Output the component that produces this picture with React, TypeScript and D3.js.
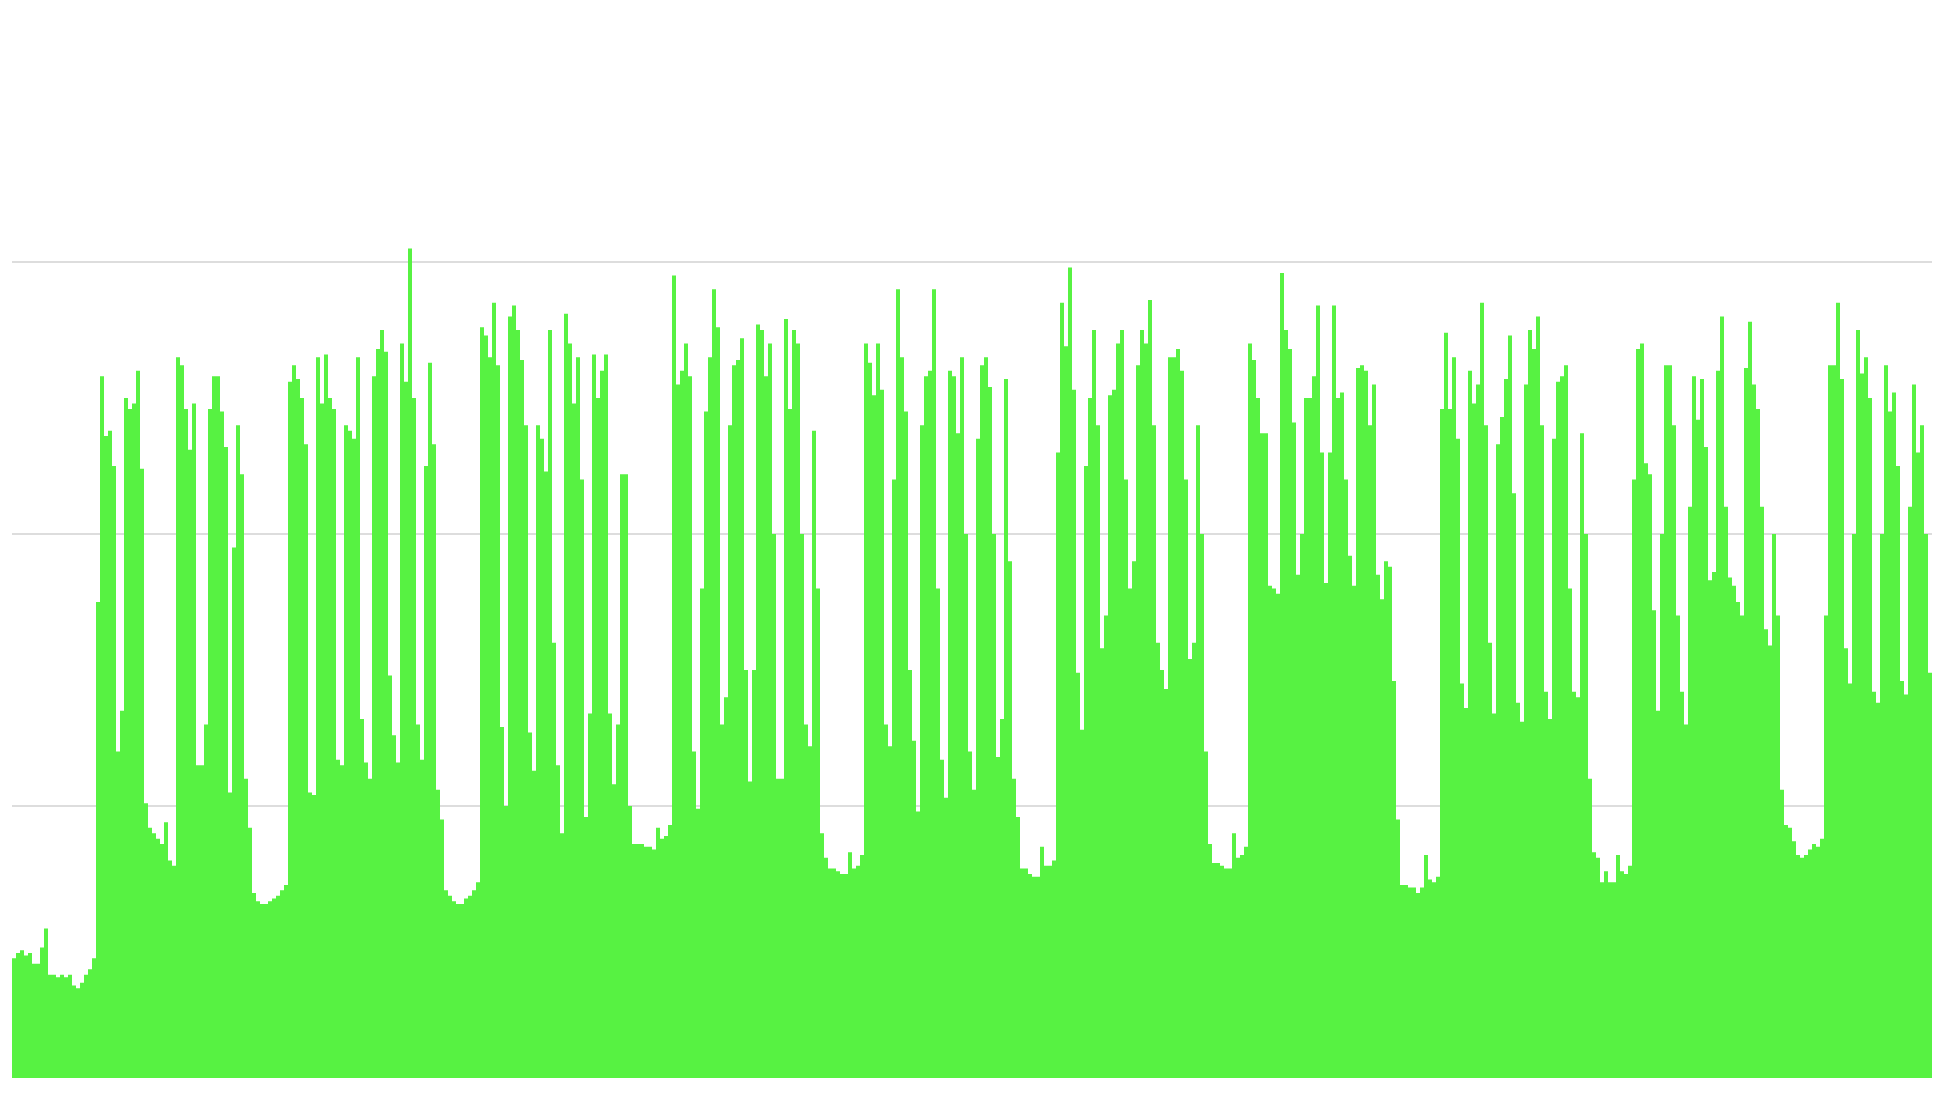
import React from "react";
import * as d3 from "d3";

const seriesValues: number[] = [
  44, 46, 47, 45, 46, 42, 42, 48, 55, 38,
  38, 37, 38, 37, 38, 34, 33, 35, 38, 40,
  44, 175, 258, 236, 238, 225, 120, 135, 250, 246,
  248, 260, 224, 101, 92, 90, 88, 86, 94, 80,
  78, 265, 262, 246, 231, 248, 115, 115, 130, 246,
  258, 258, 245, 232, 105, 195, 240, 222, 110, 92,
  68, 65, 64, 64, 65, 66, 67, 69, 71, 256,
  262, 257, 250, 233, 105, 104, 265, 248, 266, 250,
  246, 117, 115, 240, 238, 235, 265, 132, 116, 110,
  258, 268, 275, 267, 148, 126, 116, 270, 256, 305,
  250, 130, 117, 225, 263, 233, 106, 95, 69, 67,
  65, 64, 64, 66, 67, 69, 72, 276, 273, 265,
  285, 262, 129, 100, 280, 284, 275, 264, 240, 127,
  113, 240, 235, 223, 275, 160, 115, 90, 281, 270,
  248, 265, 220, 96, 134, 266, 250, 260, 266, 134,
  108, 130, 222, 222, 100, 86, 86, 86, 85, 85,
  84, 92, 88, 89, 93, 295, 255, 260, 270, 258,
  120, 99, 180, 245, 265, 290, 276, 130, 140, 240,
  262, 264, 272, 150, 109, 150, 277, 275, 258, 270,
  200, 110, 110, 279, 246, 275, 270, 200, 130, 122,
  238, 180, 90, 81, 77, 77, 76, 75, 75, 83,
  77, 78, 82, 270, 263, 251, 270, 253, 130, 122,
  220, 290, 265, 245, 150, 124, 98, 240, 258, 260,
  290, 180, 117, 103, 260, 258, 237, 265, 200, 120,
  106, 235, 262, 265, 254, 200, 118, 132, 257, 190,
  110, 96, 77, 77, 75, 74, 74, 85, 78, 78,
  80, 230, 285, 269, 298, 253, 149, 128, 225, 250,
  275, 240, 158, 170, 251, 253, 270, 275, 220, 180,
  190, 262, 275, 270, 286, 240, 160, 150, 143, 265,
  265, 268, 260, 220, 154, 160, 240, 200, 120, 86,
  79, 79, 78, 77, 77, 90, 81, 82, 85, 270,
  264, 250, 237, 237, 181, 180, 178, 296, 275, 268,
  241, 185, 200, 250, 250, 258, 284, 230, 182, 230,
  284, 250, 252, 220, 192, 181, 261, 262, 260, 240,
  255, 185, 176, 190, 188, 146, 95, 71, 71, 70,
  70, 68, 70, 82, 73, 72, 74, 246, 274, 246,
  265, 235, 145, 136, 260, 248, 255, 285, 240, 160,
  134, 233, 243, 257, 273, 215, 138, 131, 255, 275,
  268, 280, 240, 142, 132, 235, 256, 258, 262, 180,
  142, 140, 237, 200, 110, 83, 81, 72, 76, 72,
  72, 82, 76, 75, 78, 220, 268, 270, 226, 222,
  172, 135, 200, 262, 262, 240, 170, 142, 130, 210,
  258, 242, 257, 232, 183, 186, 260, 280, 210, 184,
  181, 175, 170, 261, 278, 255, 246, 210, 165, 159,
  200, 170, 106, 93, 92, 87, 82, 81, 82, 84,
  86, 85, 88, 170, 262, 262, 285, 257, 158, 145,
  200, 275, 259, 265, 250, 142, 138, 200, 262, 245,
  252, 225, 146, 141, 210, 255, 230, 240, 200, 149,
];

const gridValues: number[] = [100, 200, 300];
const yDomain: [number, number] = [0, 300];

const W = 1947;
const H = 1097;
const plotLeft = 12;
const plotRight = 1932;
const plotBottom = 1078;
const plotTopGrid = 262;

export default function App() {
  const n = seriesValues.length;
  const x = d3.scaleLinear().domain([0, n]).range([plotLeft, plotRight]);
  const y = d3.scaleLinear().domain(yDomain).range([plotBottom, plotTopGrid]);

  const pts: [number, number][] = seriesValues.map((v, i) => [i, v]);
  pts.push([n, seriesValues[n - 1]]);

  const area = d3
    .area<[number, number]>()
    .x((d) => x(d[0]))
    .y0(y(0))
    .y1((d) => y(d[1]))
    .curve(d3.curveStepAfter);

  return (
    <svg
      width={W}
      height={H}
      style={{ position: "absolute", left: 0, top: 0, display: "block", background: "#ffffff" }}
    >
      <rect x={0} y={0} width={W} height={H} fill="#ffffff" />
      {gridValues.map((g) => (
        <line
          key={g}
          x1={x(0)}
          x2={x(n)}
          y1={y(g)}
          y2={y(g)}
          stroke="#d2d2d2"
          strokeWidth={1.6}
        />
      ))}
      <path d={area(pts) || ""} fill="#57f242" />
    </svg>
  );
}
